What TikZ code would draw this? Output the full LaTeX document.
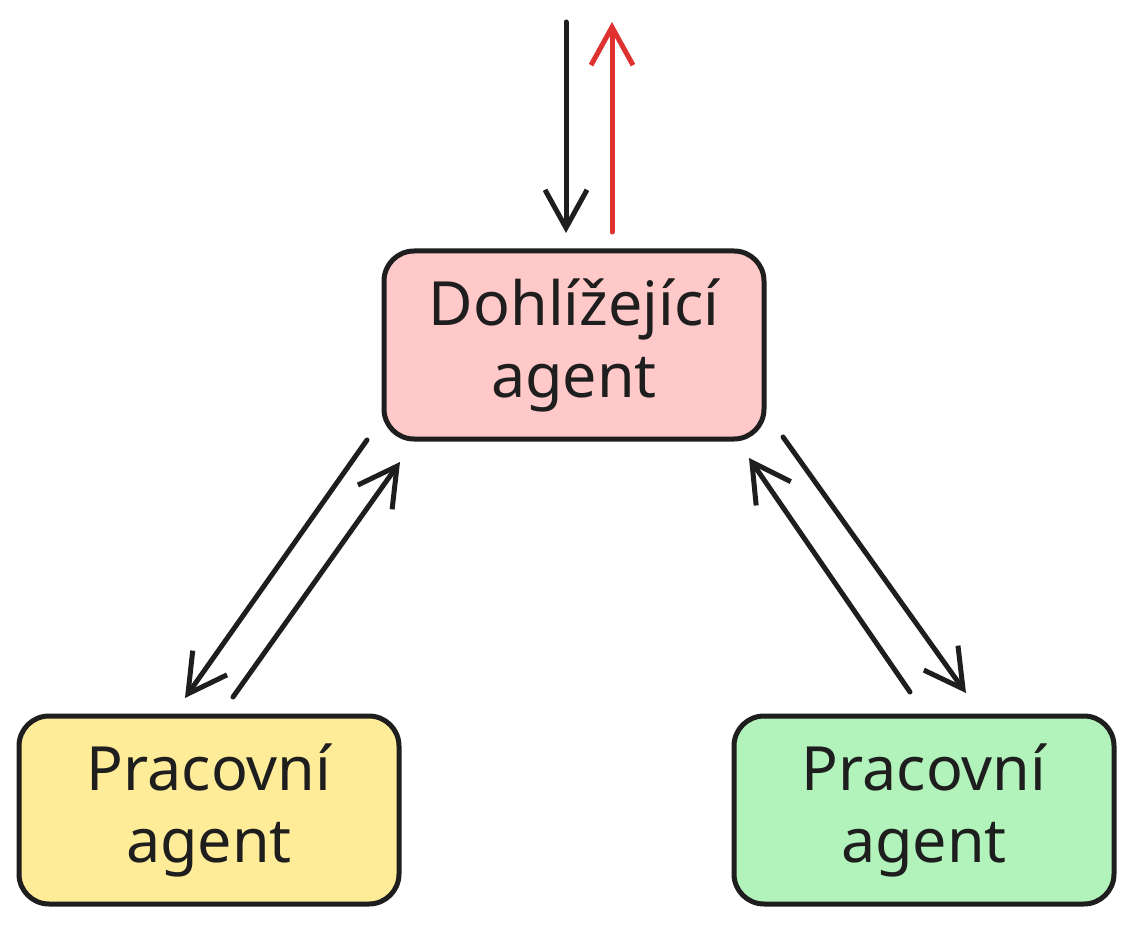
\documentclass[tikz,border=0pt]{standalone}
\usepackage{fontspec}
\setmainfont{Noto Sans}
\usetikzlibrary{arrows.meta}
\definecolor{pinkfill}{HTML}{FFC9C9}
\definecolor{yellowfill}{HTML}{FFEC99}
\definecolor{greenfill}{HTML}{B2F2BB}
\definecolor{inkline}{HTML}{1E1E1E}
\definecolor{redline}{HTML}{E03131}
\tikzset{
  agentbox/.style={draw=inkline, line width=5pt, rounded corners=30pt,
    minimum width=380pt, minimum height=188pt, align=center, inner sep=0pt,
    font=\fontsize{61}{72}\selectfont, text=inkline},
  barb/.style={-{Straight Barb[length=38pt,width=42pt,line width=5pt]}},
  flow/.style={draw=inkline, line width=5pt, line cap=round, barb},
}
\begin{document}
\begin{tikzpicture}[x=1pt,y=-1pt]
\useasboundingbox[fill=white] (0,0) rectangle (1133,928);
\node[agentbox, fill=pinkfill] (sup) at (574,345) {Dohlížející\\agent};
\node[agentbox, fill=yellowfill] (w1) at (209,810) {Pracovní\\agent};
\node[agentbox, fill=greenfill] (w2) at (924,810) {Pracovní\\agent};
\coordinate (intop) at (566,22);
\coordinate (outtop) at (612,22);
\coordinate (inend) at (566,233);
\coordinate (outstart) at (612,232);
\draw[flow] (intop) -- (inend);
\draw[flow, draw=redline, redline] (outstart) -- (outtop);
\draw[flow] (367,440) -- (185,698);
\draw[flow] (233,697) -- (400,462);
\draw[flow] (910,692) -- (749,458);
\draw[flow] (783,437) -- (966,693);
\end{tikzpicture}
\end{document}
